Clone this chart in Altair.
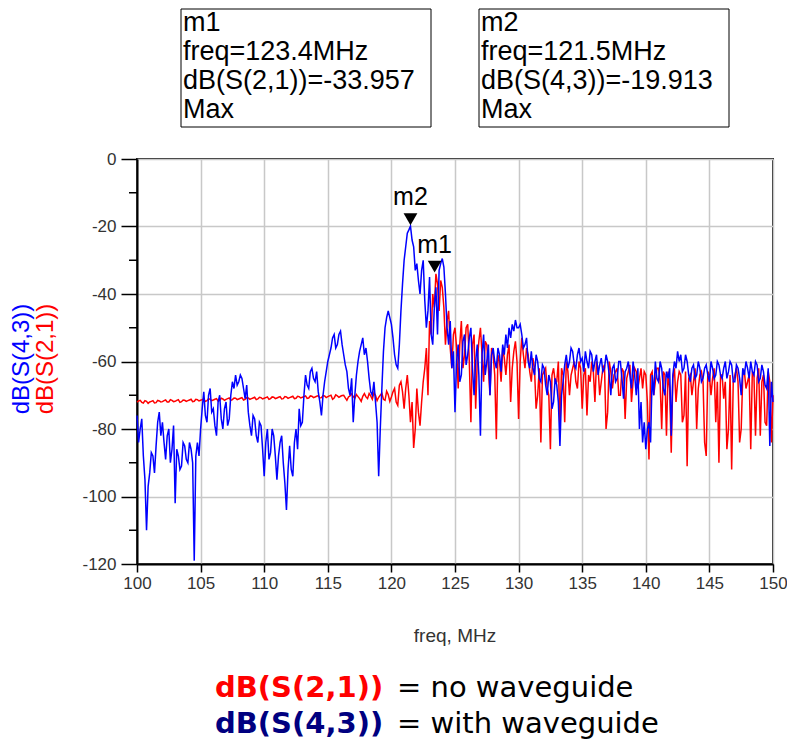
import altair as alt
import pandas as pd

# ---------------- data ----------------
FREQ_START = 100.0   # MHz
FREQ_STEP = 0.125    # MHz (main samples on the quarter-MHz, mid samples in between)

# dB(S(4,3)) : with waveguide (blue) at 100.00, 100.25, ... 150.00 MHz
blue_db = [
    -76, -80, -88, -110,
    -93, -88, -85, -75,
    -78, -89, -80, -86,
    -102, -88, -91, -85,
    -90, -86, -119, -84,
    -80, -69, -78, -68,
    -74, -82, -70, -80,
    -72, -77, -66, -64,
    -66, -65, -71, -75,
    -82, -77, -84, -79,
    -94, -80, -87, -82,
    -95, -84, -90, -104,
    -85, -94, -80, -74,
    -78, -64, -68, -62,
    -66, -69, -76, -66,
    -60, -56, -52, -55,
    -51, -58, -63, -70,
    -78, -64, -57, -53,
    -56, -65, -70, -72,
    -94, -68, -50, -45,
    -49, -58, -62, -45,
    -30, -22, -19.9, -26,
    -31, -40, -30, -50,
    -35, -55, -38, -33,
    -29.5, -40, -55, -62,
    -75, -55, -64, -52,
    -58, -50, -70, -55,
    -82, -52, -60, -70,
    -56, -62, -58, -55,
    -52, -50, -49, -47.7,
    -50, -52, -55, -60,
    -57, -64, -60, -66,
    -62, -70, -66, -72,
    -67, -85, -66, -58,
    -60, -57, -62, -56,
    -59, -57, -62, -58,
    -60, -64, -59, -62,
    -60, -70, -61, -65,
    -60, -71, -62, -64,
    -60, -70, -80, -84,
    -86, -78, -64, -60,
    -66, -62, -70, -65,
    -82, -60, -57, -58,
    -62, -60, -66, -61,
    -64, -62, -65, -61,
    -66, -62, -64, -61,
    -65, -60, -63, -61,
    -66, -62, -70, -64,
    -62, -60, -64, -61,
    -65, -63, -68, -85,
    -72,
]
# blue at 100.125, 100.375, ... 149.875 MHz
blue_mid_db = [
    -84, -77, -95, -97,
    -87, -93, -78, -82,
    -84, -82, -90, -79,
    -86, -92, -84, -89,
    -84, -90, -88, -88,
    -74, -76, -70, -75,
    -79, -72, -77, -74,
    -79, -70, -68, -67,
    -64, -68, -67, -79,
    -76, -82, -78, -86,
    -84, -89, -80, -88,
    -88, -82, -96, -92,
    -92, -84, -86, -79,
    -70, -67, -63, -65,
    -63, -72, -70, -63,
    -58, -53, -56, -52,
    -55, -61, -68, -65,
    -70, -60, -55, -58,
    -60, -69, -66, -78,
    -80, -57, -47, -47,
    -53, -61, -55, -37,
    -26, -21, -24, -33,
    -36, -33, -42, -45,
    -52, -44, -52, -31,
    -32, -50, -48, -57,
    -60, -66, -54, -61,
    -53, -62, -60, -64,
    -58, -64, -55, -58,
    -60, -56, -63, -58,
    -56, -53, -51, -50,
    -49, -56, -53, -62,
    -62, -58, -65, -61,
    -67, -64, -74, -65,
    -72, -70, -61, -62,
    -56, -61, -58, -60,
    -63, -60, -57, -63,
    -58, -61, -63, -58,
    -64, -62, -66, -60,
    -65, -63, -60, -68,
    -64, -62, -72, -78,
    -80, -84, -70, -65,
    -60, -68, -63, -62,
    -64, -62, -60, -63,
    -58, -64, -62, -65,
    -60, -66, -62, -64,
    -60, -65, -60, -64,
    -62, -65, -60, -66,
    -61, -65, -62, -60,
    -65, -63, -60, -66,
    -61, -67, -62, -66,
]

# dB(S(2,1)) : no waveguide (red) at 100.00, 100.25, ... 150.00 MHz
red_db = [
    -72, -71.5, -72.3, -71.8,
    -72, -71.6, -72.2, -71.7,
    -71.9, -71.4, -72, -71.5,
    -71.8, -71.3, -71.9, -71.5,
    -71.6, -71.2, -71.8, -71.3,
    -71.5, -71.1, -71.6, -71.2,
    -71.4, -71, -71.5, -71.1,
    -71.2, -70.8, -71.3, -70.9,
    -71.1, -70.7, -71.2, -70.8,
    -71, -70.6, -71.1, -70.7,
    -70.9, -70.5, -71, -70.6,
    -70.8, -70.4, -71, -70.5,
    -70.7, -70.3, -70.9, -70.4,
    -70.6, -70.2, -70.8, -70.3,
    -70.5, -70.1, -70.7, -70.2,
    -70.4, -70, -70.8, -70.2,
    -70.3, -70, -71.5, -70.2,
    -70.4, -69.8, -71, -70.3,
    -70.5, -69.5, -71.2, -70,
    -70.6, -69.4, -71.5, -69.8,
    -70.5, -68, -73, -66,
    -74, -64, -78, -85.6,
    -68, -79, -66, -56,
    -48, -40, -34, -45,
    -38, -55, -45, -62,
    -50, -68, -48, -58,
    -49, -78, -52, -60,
    -50, -66, -55, -70,
    -58, -83, -60, -56,
    -64, -55, -62, -54,
    -77, -53, -62, -58,
    -66, -62, -70, -84,
    -63, -68, -86, -62,
    -66, -80, -64, -60,
    -70, -62, -66, -60,
    -74, -62, -64, -60,
    -72, -62, -66, -61,
    -75, -63, -64, -62,
    -70, -63, -65, -61,
    -66, -63, -65, -68,
    -64, -89, -63, -66,
    -62, -80, -64, -63,
    -87, -62, -66, -64,
    -76, -91, -64, -66,
    -80, -64, -66, -88,
    -64, -65, -78, -90,
    -64, -66, -80, -92,
    -64, -66, -80, -63,
    -66, -86, -64, -65,
    -82, -64, -79, -66,
    -70,
]
# red at 100.125, 100.375, ... 149.875 MHz
red_mid_db = [
    -71.7, -72.1, -71.6, -72.4,
    -71.8, -72.3, -71.5, -72,
    -71.6, -72, -71.3, -71.9,
    -71.5, -72.1, -71.4, -71.8,
    -71.4, -71.9, -71.2, -71.7,
    -71.3, -71.8, -71, -71.6,
    -71.2, -71.7, -70.9, -71.5,
    -71, -71.5, -70.8, -71.3,
    -70.9, -71.4, -70.7, -71.2,
    -70.8, -71.3, -70.6, -71.1,
    -70.7, -71.2, -70.5, -71,
    -70.6, -71.1, -70.4, -70.9,
    -70.5, -71, -70.3, -70.8,
    -70.4, -70.9, -70.2, -70.7,
    -70.3, -70.8, -70.1, -70.7,
    -70.2, -71.2, -69.9, -70.6,
    -70.1, -70.8, -70.5, -69.6,
    -70.9, -70.4, -71.8, -69.5,
    -71, -70.2, -69.3, -71.6,
    -70, -71.2, -68.8, -71.8,
    -69, -72, -67, -69,
    -68, -70, -72, -80,
    -75, -72, -62, -70,
    -52, -44, -37, -36,
    -44, -48, -56, -52,
    -56, -55, -62, -50,
    -60, -55, -74, -54,
    -58, -54, -62, -56,
    -64, -58, -66, -59,
    -58, -72, -57, -60,
    -60, -58, -56, -63,
    -59, -74, -62, -64,
    -62, -70, -64, -66,
    -60, -62, -78, -63,
    -64, -60, -68, -62,
    -64, -76, -66, -63,
    -60, -70, -62, -80,
    -60, -68, -63, -70,
    -62, -77, -63, -72,
    -62, -68, -62, -63,
    -72, -64, -70, -62,
    -66, -63, -82, -68,
    -65, -72, -63, -78,
    -63, -65, -70, -62,
    -68, -63, -84, -63,
    -70, -62, -66, -64,
    -71, -86, -64, -66,
    -62, -84, -64, -68,
    -64, -63, -82, -62,
    -66, -78, -63, -84,
]


def interleave(main, mid):
    out = []
    for i, v in enumerate(mid):
        out += [main[i], v]
    return out + main[len(mid):]


blue_all = interleave(blue_db, blue_mid_db)
red_all = interleave(red_db, red_mid_db)
freq = [round(FREQ_START + FREQ_STEP * i, 3) for i in range(len(blue_all))]

x_ticks = [100, 105, 110, 115, 120, 125, 130, 135, 140, 145, 150]
y_ticks = [0, -20, -40, -60, -80, -100, -120]
y_minor = [-10, -30, -50, -70, -90, -110]

marker_names = ["m1", "m2"]
marker_freq = [123.4, 121.5]
marker_db = [-33.957, -19.913]
marker_trace = ["dB(S(2,1))", "dB(S(4,3))"]

# ---------------- chart ----------------
FONT = "Liberation Sans"
W, H = 636, 405
LEFT = 129  # plot origin at page x = 8 + LEFT

df = pd.DataFrame({"freq": freq, "blue": blue_all, "red": red_all})
mk = pd.DataFrame({"name": marker_names, "freq": marker_freq, "db": marker_db})

xscale = alt.Scale(domain=[100, 150], nice=False, zero=False)
yscale = alt.Scale(domain=[-120, 0], nice=False, zero=False)
xaxis = alt.Axis(values=x_ticks, title=None, grid=True, gridColor="#c8c8c8", gridWidth=1.5,
                 tickSize=8, tickColor="#000", tickWidth=1.5, domainColor="#000", domainWidth=2,
                 labelFont=FONT, labelFontSize=17, labelColor="#333", labelPadding=3,
                 labelFlush=False, labelOverlap=False, format="d")
yaxis = alt.Axis(values=y_ticks, title=None, grid=True, gridColor="#c8c8c8", gridWidth=1.5,
                 tickSize=16, tickColor="#000", tickWidth=1.5, domainColor="#000", domainWidth=2,
                 labelFont=FONT, labelFontSize=17, labelColor="#333", labelPadding=5,
                 labelFlush=False, labelOverlap=False, labelExpr="datum.value + ''")


def X(field="freq"):
    return alt.X(f"{field}:Q", scale=xscale, axis=xaxis)


def Y(field):
    return alt.Y(f"{field}:Q", scale=yscale, axis=yaxis)


def px(page_x):
    """page x -> plot x"""
    return page_x - 8 - LEFT


base = alt.Chart(df)
red_line = base.mark_line(color="#ff0000", strokeWidth=1.5).encode(x=X(), y=Y("red"))
blue_line = base.mark_line(color="#0000ff", strokeWidth=1.5).encode(x=X(), y=Y("blue"))

minor = alt.Chart(pd.DataFrame({"v": y_minor})).mark_rule(color="#000", strokeWidth=1.5).encode(
    y=Y("v"), x=alt.value(-8), x2=alt.value(0))

tri = alt.Chart(mk).mark_point(shape="triangle-down", filled=True, size=190, color="black",
                               opacity=1, yOffset=-7).encode(x=X(), y=Y("db"))
tri_lbl = alt.Chart(mk).mark_text(font=FONT, fontSize=25, color="black", dy=-29,
                                  baseline="middle").encode(x=X(), y=Y("db"), text="name:N")

one = pd.DataFrame({"a": [0]})

layers = [red_line, blue_line, minor, tri, tri_lbl]

# marker readout boxes
box_left = [px(181), px(479)]
for i in range(2):
    txt = "\n".join([marker_names[i], f"freq={marker_freq[i]}MHz",
                     f"{marker_trace[i]}={marker_db[i]}", "Max"])
    rect = alt.Chart(one).mark_rect(fill="white", stroke="black", strokeWidth=1).encode(
        x=alt.value(box_left[i]), x2=alt.value(box_left[i] + 250),
        y=alt.value(-150), y2=alt.value(-32))
    t = alt.Chart(pd.DataFrame({"t": [txt]})).mark_text(
        font=FONT, fontSize=27, align="left", baseline="alphabetic", lineBreak="\n",
        lineHeight=29, color="black").encode(
        x=alt.value(box_left[i] + 2), y=alt.value(-128), text="t:N")
    layers += [rect, t]

# y axis title (two coloured lines)
ytitle_blue = alt.Chart(pd.DataFrame({"t": ["dB(S(4,3))"]})).mark_text(
    font=FONT, fontSize=24, angle=270, align="center", baseline="middle", color="#0000ff").encode(
    x=alt.value(px(22)), y=alt.value(200), text="t:N")
ytitle_red = alt.Chart(pd.DataFrame({"t": ["dB(S(2,1))"]})).mark_text(
    font=FONT, fontSize=24, angle=270, align="center", baseline="middle", color="#ff0000").encode(
    x=alt.value(px(46)), y=alt.value(200), text="t:N")

xtitle = alt.Chart(pd.DataFrame({"t": ["freq, MHz"]})).mark_text(
    font=FONT, fontSize=19, align="center", baseline="middle", color="#333").encode(
    x=alt.value(W / 2), y=alt.value(477), text="t:N")

# bottom explanation
LFONT = "DejaVu Sans"
leg1a = alt.Chart(pd.DataFrame({"t": ["dB(S(2,1))"]})).mark_text(
    font=LFONT, fontSize=29, fontWeight="bold", align="left", baseline="middle", color="#ff0000").encode(
    x=alt.value(px(215)), y=alt.value(529), text="t:N")
leg1b = alt.Chart(pd.DataFrame({"t": ["= no waveguide"]})).mark_text(
    font=LFONT, fontSize=29, align="left", baseline="middle", color="black").encode(
    x=alt.value(px(397)), y=alt.value(529), text="t:N")
leg2a = alt.Chart(pd.DataFrame({"t": ["dB(S(4,3))"]})).mark_text(
    font=LFONT, fontSize=29, fontWeight="bold", align="left", baseline="middle", color="#000080").encode(
    x=alt.value(px(215)), y=alt.value(565), text="t:N")
leg2b = alt.Chart(pd.DataFrame({"t": ["= with waveguide"]})).mark_text(
    font=LFONT, fontSize=29, align="left", baseline="middle", color="black").encode(
    x=alt.value(px(397)), y=alt.value(565), text="t:N")

layers += [ytitle_blue, ytitle_red, xtitle, leg1a, leg1b, leg2a, leg2b]

chart = alt.layer(*layers).properties(
    width=W, height=H,
    autosize=alt.AutoSizeParams(type="none"),
    padding={"left": LEFT, "top": 151, "right": 14, "bottom": 177},
    background="white",
).configure_view(stroke="#222", strokeWidth=2)

chart.save("out.html", embed_options={"renderer": "svg", "actions": False})
